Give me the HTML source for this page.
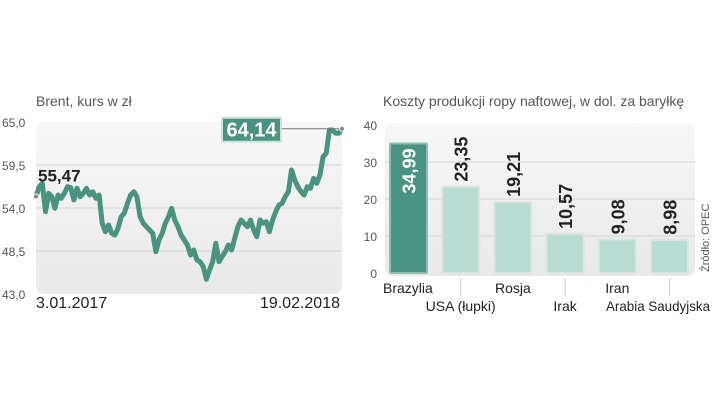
<!DOCTYPE html>
<html><head><meta charset="utf-8"><style>
body{margin:0;background:#fff;width:720px;height:405px;overflow:hidden;font-family:"Liberation Sans",sans-serif}
svg text{font-family:"Liberation Sans",sans-serif}
</style></head><body>
<svg width="720" height="405">
<defs>
<linearGradient id="bg" x1="0" y1="0" x2="0" y2="1"><stop offset="0" stop-color="#f7f7f7"/><stop offset="1" stop-color="#e9e9e9"/></linearGradient>
</defs>
<g id="left">
<text x="36" y="106" font-size="14" fill="#555">Brent, kurs w zł</text>
<rect x="36" y="122" width="306" height="172" rx="8" fill="url(#bg)"/>
<g id="lgrid"></g>
<path id="lline" fill="none" stroke="#4a9380" stroke-width="5" stroke-linejoin="round"/>
<g id="lann"></g>
<text x="36" y="308" font-size="16" fill="#222">3.01.2017</text>
<text x="340" y="308" font-size="16" fill="#222" text-anchor="end">19.02.2018</text>
</g>
<g id="right">
<text x="383" y="106" font-size="14" fill="#555">Koszty produkcji ropy naftowej, w dol. za baryłkę</text>
<rect x="385" y="123" width="310" height="153" rx="8" fill="url(#bg)"/>
<g id="rgrid"></g><g id="rbars"></g>
<text transform="translate(709,272) rotate(-90)" font-size="11" fill="#555">Źródło: OPEC</text>
</g>
</svg>
<script>
const brentTicks=["65,0","59,5","54,0","48,5","43,0"];
const brentTickVals=[65,59.5,54,48.5,43];
const brentValues=[55.47,56.73,57.16,53.53,55.88,55.45,53.96,55.66,55.24,55.88,56.73,56.64,55.02,56.52,55.45,55.88,56.52,55.66,56.09,55.24,55.66,52.04,50.97,51.82,50.76,50.55,51.40,52.89,53.35,54.60,55.66,56.09,55.45,52.89,52.04,51.61,51.19,50.76,48.41,49.91,50.76,52.04,52.89,53.96,52.47,51.61,50.55,49.91,49.27,47.99,48.63,47.35,47.13,46.50,44.88,46.07,47.13,49.48,47.13,47.77,48.41,49.27,48.63,50.12,51.61,52.47,52.04,51.61,52.47,51.19,50.33,52.47,52.04,52.25,50.97,52.47,53.53,54.38,54.60,55.45,56.09,58.86,57.58,56.73,56.09,55.66,56.73,56.52,57.79,57.16,58.22,60.57,60.99,63.98,63.98,63.55,63.55,64.14];
const costCategories=["Brazylia","USA (łupki)","Rosja","Irak","Iran","Arabia Saudyjska"];
const costValues=[34.99,23.35,19.21,10.57,9.08,8.98];
const costLabels=["34,99","23,35","19,21","10,57","9,08","8,98"];
const costTicks=[0,10,20,30,40];
const NS="http://www.w3.org/2000/svg";
function mk(t,a,p,txt){const e=document.createElementNS(NS,t);for(const k in a)e.setAttribute(k,a[k]);if(txt!==undefined)e.textContent=txt;p.appendChild(e);return e;}
const ly=v=>122+(65-v)*172/22, lx=i=>36+i*306/(brentValues.length-1);
const lg=document.getElementById('lgrid');
brentTickVals.forEach((v,i)=>{
 if(i>0&&i<4){const l=mk('line',{x1:36,x2:342,y1:ly(v),y2:ly(v),stroke:'#d6d6d6'},lg);
 
 }
 const t=mk('text',{x:2,y:ly(v)+5,'font-size':12,fill:'#555'},lg,brentTicks[i]);
 
 
});
document.getElementById('lline').setAttribute('d',brentValues.map((v,i)=>(i?'L':'M')+lx(i).toFixed(1)+','+ly(v).toFixed(1)).join(''));
const la=document.getElementById('lann');
const n=brentValues.length-1;
const cl=mk('line',{x1:281,x2:lx(n),y1:ly(brentValues[n]),y2:ly(brentValues[n]),stroke:'#777'},la);


const bx=mk('rect',{x:222,y:ly(brentValues[n])-11,width:59,height:24,fill:'#4a9380',stroke:'#cfe3dc','stroke-width':2},la);


const lt=mk('text',{x:251.5,y:ly(brentValues[n])+8,'font-size':20,'font-weight':'bold',fill:'#fff','text-anchor':'middle'},la,brentValues[n].toFixed(2).replace('.',','));


const ft=mk('text',{x:38,y:ly(brentValues[0])-15,'font-size':17,'font-weight':'bold',fill:'#222'},la,brentValues[0].toFixed(2).replace('.',','));


[[lx(0),ly(brentValues[0])],[lx(n),ly(brentValues[n])]].forEach(p=>{const c=mk('circle',{cx:p[0],cy:p[1],r:2.5,fill:'#888',stroke:'#fff'},la);

});
const ry=v=>273-v*3.7, rx=i=>390+i*52.2;
const rg=document.getElementById('rgrid');
costTicks.forEach(v=>{
 if(v>0&&v<40){const l=mk('line',{x1:385,x2:695,y1:ry(v),y2:ry(v),stroke:'#d6d6d6'},rg);
 
 }
 const t=mk('text',{x:377,y:ry(v)+5,'font-size':12,fill:'#555','text-anchor':'end'},rg,String(v));
 
 
});
const rb=document.getElementById('rbars');
costValues.forEach((v,i)=>{
 const x=rx(i),w=37,top=ry(v);
 const b=mk('rect',{x:x,y:top,width:w,height:273-top,fill:i==0?'#4a9380':'#b9dcd2',stroke:i==0?'#8cbdb0':'#d9e6e2','stroke-width':2,rx:1},rb);
 
 
 const inside=i==0;
 const ty=inside?top+5:top-5;
 const t=mk('text',{transform:`translate(${x+w/2+7},${ty}) rotate(-90)`,'font-size':18,'font-weight':'bold',fill:inside?'#fff':'#222','text-anchor':inside?'end':'start'},rb,costLabels[i]);
 
 
 const odd=i%2==1;
 if(odd){const tk=mk('line',{x1:x+w/2,x2:x+w/2,y1:278,y2:296,stroke:'#ccc'},rb);
 
 }
 let attrs={x:i==0?383:x+w/2,y:odd?311:293,'font-size':14,fill:'#222','text-anchor':i==0?'start':'middle'};
 if(i==5){attrs={x:606,y:311,'font-size':14,fill:'#222','text-anchor':'start',textLength:104,lengthAdjust:'spacingAndGlyphs'};}
 const c=mk('text',attrs,rb,costCategories[i]);
 
 
});
</script>
</body></html>
